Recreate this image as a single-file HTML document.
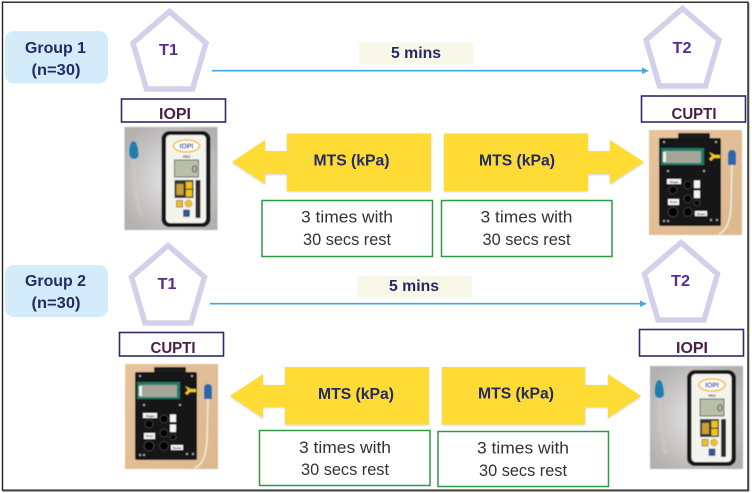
<!DOCTYPE html>
<html><head><meta charset="utf-8"><style>
html,body{margin:0;padding:0;background:#fff}
svg{display:block}
text{font-family:"Liberation Sans",sans-serif}
.g{font-weight:bold;font-size:16px;fill:#242a62;text-anchor:middle}
.t{font-weight:bold;font-size:15.5px;fill:#5a2a8c;text-anchor:middle}
.d{font-weight:bold;font-size:15.5px;fill:#4a2048;text-anchor:middle}
.r{font-size:16.5px;fill:#333;text-anchor:middle}
.pent{fill:#fff;stroke:#d3d1ea;stroke-width:5.5;stroke-linejoin:miter}
.lab{fill:none;stroke:#2f2a68;stroke-width:1.6}
.gb{fill:#fff;stroke:#2f9a42;stroke-width:1.5}
.y{fill:#fedb36}
.ln{stroke:#3fa9e2;stroke-width:1.6}
.ah{fill:#3fa9e2}
</style></head><body>
<svg width="752" height="493" viewBox="0 0 752 493" xmlns="http://www.w3.org/2000/svg">
<defs>
<filter id="b" x="-5%" y="-5%" width="110%" height="110%"><feGaussianBlur stdDeviation="0.45"/></filter>
<filter id="s" x="-5%" y="-5%" width="110%" height="115%"><feDropShadow dx="0" dy="1" stdDeviation="1" flood-color="#999" flood-opacity=".45"/></filter>
<radialGradient id="gr" cx="50%" cy="50%" r="60%"><stop offset="0" stop-color="#e6e6e6"/><stop offset="1" stop-color="#b3b1b0"/></radialGradient>
<linearGradient id="wd" x1="0" y1="0" x2="1" y2="1"><stop offset="0" stop-color="#e6c49c"/><stop offset="1" stop-color="#dcb88e"/></linearGradient>
<polygon id="p" points="0,-31.500 36.500,0 23,46 -23,46 -36.500,0"/>
<g id="iopi" filter="url(#b)">
<rect width="93" height="103" fill="url(#gr)"/>
<path d="M9 30C9 55 12 75 16 88" fill="none" stroke="#f0f0f0" stroke-width="1.8"/>
<path d="M9 30C9 55 12 75 16 88" fill="none" stroke="#777" stroke-width=".6"/>
<path d="M5 29C4 21 6 14 9 14C12 14 14 21 14 29C12 33 7 33 5 29Z" fill="#1f7fae"/>
<rect x="37" y="4" width="49" height="96" rx="8" fill="#151515"/>
<rect x="41.500" y="8" width="40" height="88" rx="4" fill="#f4f4ee"/>
<ellipse cx="62" cy="19" rx="13" ry="6" fill="#fff" stroke="#f0c030" stroke-width="1.6"/>
<text x="62" y="21.500" text-anchor="middle" font-size="7" font-weight="bold" fill="#1d3f91">IOPI</text>
<text x="62" y="31" text-anchor="middle" font-size="3.500" font-weight="bold" fill="#333">PRO</text>
<rect x="50" y="33" width="24" height="17" fill="#b9c0a9" stroke="#333" stroke-width=".7"/>
<text x="70" y="45.500" text-anchor="middle" font-size="10" fill="#333">0</text>
<rect x="50" y="53" width="19" height="18" fill="#35353a"/>
<rect x="52" y="57" width="7" height="11" fill="#c9a130"/>
<rect x="61" y="54.500" width="7" height="7.500" fill="#f2c21a" stroke="#222" stroke-width=".5"/>
<rect x="61" y="62.500" width="7" height="7.500" fill="#f2c21a" stroke="#222" stroke-width=".5"/>
<rect x="71" y="53" width="5" height="38" fill="#2c2c2c"/>
<rect x="52" y="73.500" width="6" height="6.500" fill="#f2c21a" stroke="#333" stroke-width=".5"/>
<circle cx="64" cy="76.500" r="3.500" fill="#f2c21a" stroke="#777" stroke-width=".5"/>
<rect x="59" y="83" width="6" height="6.500" fill="#2c57a8" stroke="#222" stroke-width=".5"/>
</g>
<g id="cupti" filter="url(#b)">
<rect width="93" height="105" fill="url(#wd)"/>
<path d="M83 35C82 60 83 80 80 90C78 98 74 102 70 104" fill="none" stroke="#f3e8d8" stroke-width="1.6"/>
<rect x="29" y="3" width="32" height="7" rx="1" fill="#1e1b1a"/>
<rect x="10" y="8" width="62" height="88" rx="2" fill="#171515"/>
<rect x="12" y="18" width="43" height="17" fill="#1e7a68"/>
<rect x="15" y="21" width="37" height="12" fill="#a3a596"/>
<rect x="14" y="22" width="3" height="10" fill="#f0f0f0"/>
<path d="M60 22L66 25L71 25L71 28L65 28L62 31L60 29L63 26Z" fill="#f0cb25"/>
<path d="M79 35L79 25C79 21 81 20 83 20C85 20 87 21 87 25L87 35Z" fill="#2c66ad"/>
<g fill="#050505" stroke="#3a3a3a" stroke-width="1"><circle cx="24" cy="60" r="4"/><circle cx="39" cy="55" r="4"/><circle cx="39" cy="69" r="4"/><circle cx="39" cy="82" r="4.500"/><circle cx="48" cy="73" r="3"/><circle cx="24" cy="82" r="5"/></g>
<g fill="#f4f4f4">
<rect x="18" y="49" width="14" height="5"/><rect x="19" y="69" width="11" height="6"/>
<rect x="45" y="50.500" width="6" height="7.500"/><rect x="45" y="60.500" width="6" height="7.500"/>
<rect x="46" y="81" width="12" height="5"/>
</g>
<g font-size="3" fill="#111" text-anchor="middle" font-weight="bold">
<text x="25" y="52.800">Target</text><text x="24.500" y="73">Push</text><text x="52" y="84.800">Reset</text>
</g>
<g fill="#bbb"><circle cx="15" cy="12" r="1"/><circle cx="67" cy="12" r="1"/><circle cx="19" cy="41" r="1"/><circle cx="55" cy="41" r="1"/><circle cx="15" cy="91" r="1"/><circle cx="19" cy="91" r="1"/><circle cx="62" cy="90" r="1"/><circle cx="68" cy="90" r="1"/></g>
</g>
</defs>

<rect width="752" height="493" fill="#fff"/>
<rect x="2.500" y="2.200" width="745.500" height="488" fill="none" stroke="#222" stroke-width="1.400"/>
<path d="M748.800 3V491H3" fill="none" stroke="#555" stroke-width="1"/>

<!-- Group 1 -->
<rect x="5" y="31" width="103" height="52.500" rx="9" fill="#d4ebfa"/>
<text class="g" x="55.500" y="52.800" textLength="61" lengthAdjust="spacingAndGlyphs">Group 1</text>
<text class="g" x="56" y="75" textLength="49" lengthAdjust="spacingAndGlyphs">(n=30)</text>
<use href="#p" class="pent" x="169.500" y="43"/>
<use href="#p" class="pent" x="682.500" y="40"/>
<text class="t" x="168.500" y="55" textLength="19" lengthAdjust="spacingAndGlyphs">T1</text>
<text class="t" x="682" y="53" textLength="19" lengthAdjust="spacingAndGlyphs">T2</text>
<rect x="359" y="42.500" width="114.500" height="22" rx="2" fill="#f9f8e8"/>
<text class="g" x="416" y="58" textLength="50" lengthAdjust="spacingAndGlyphs">5 mins</text>
<line class="ln" x1="212" y1="70.700" x2="643" y2="70.700"/>
<polygon class="ah" points="642,67.500 649,70.700 642,74"/>
<rect class="lab" x="121.500" y="99" width="104" height="23"/>
<text class="d" x="175" y="119" textLength="32" lengthAdjust="spacingAndGlyphs">IOPI</text>
<rect class="lab" x="641.500" y="96" width="104" height="26"/>
<text class="d" x="694" y="119" textLength="45" lengthAdjust="spacingAndGlyphs">CUPTI</text>
<use href="#iopi" x="124.500" y="127"/>
<use href="#cupti" x="649" y="130"/>
<g filter="url(#s)">
<polygon class="y" points="431,133.500 287,133.500 287,151 265,151 265,140 232,162 265,184 265,174 287,174 287,191 431,191"/>
<polygon class="y" points="444,133.500 588,133.500 588,151 610,151 610,140 644,162 610,184 610,174 588,174 588,191 444,191"/>
</g>
<text class="g" x="351.500" y="165.500" textLength="76" lengthAdjust="spacingAndGlyphs">MTS (kPa)</text>
<text class="g" x="517" y="165.500" textLength="76" lengthAdjust="spacingAndGlyphs">MTS (kPa)</text>
<rect class="gb" x="262" y="200.500" width="170.500" height="56"/>
<rect class="gb" x="441.500" y="200.500" width="170.500" height="56"/>
<text class="r" x="347" y="222.500" textLength="92" lengthAdjust="spacingAndGlyphs">3 times with</text>
<text class="r" x="347" y="245" textLength="88" lengthAdjust="spacingAndGlyphs">30 secs rest</text>
<text class="r" x="526.500" y="222.500" textLength="92" lengthAdjust="spacingAndGlyphs">3 times with</text>
<text class="r" x="526.500" y="245" textLength="88" lengthAdjust="spacingAndGlyphs">30 secs rest</text>

<!-- Group 2 -->
<rect x="5" y="265" width="103" height="52" rx="9" fill="#d4ebfa"/>
<text class="g" x="55.500" y="286" textLength="61" lengthAdjust="spacingAndGlyphs">Group 2</text>
<text class="g" x="56" y="308" textLength="49" lengthAdjust="spacingAndGlyphs">(n=30)</text>
<use href="#p" class="pent" x="168" y="277"/>
<use href="#p" class="pent" x="681" y="274"/>
<text class="t" x="167" y="289" textLength="19" lengthAdjust="spacingAndGlyphs">T1</text>
<text class="t" x="680.500" y="286" textLength="19" lengthAdjust="spacingAndGlyphs">T2</text>
<rect x="357" y="276" width="115" height="22" rx="2" fill="#f9f8e8"/>
<text class="g" x="414" y="291" textLength="50" lengthAdjust="spacingAndGlyphs">5 mins</text>
<line class="ln" x1="210" y1="303.700" x2="641" y2="303.700"/>
<polygon class="ah" points="640,300.500 647,303.700 640,307"/>
<rect class="lab" x="119.500" y="332.500" width="104" height="23.500"/>
<text class="d" x="173" y="353" textLength="45" lengthAdjust="spacingAndGlyphs">CUPTI</text>
<rect class="lab" x="639.500" y="329.500" width="104" height="26.500"/>
<text class="d" x="692" y="353" textLength="32" lengthAdjust="spacingAndGlyphs">IOPI</text>
<use href="#cupti" x="125" y="364"/>
<use href="#iopi" x="650" y="366"/>
<g filter="url(#s)">
<polygon class="y" points="429,367 285,367 285,385 263,385 263,374 230,396 263,418 263,407 285,407 285,424.500 429,424.500"/>
<polygon class="y" points="442,367 585,367 585,385 608,385 608,374 641,396 608,418 608,407 585,407 585,424.500 442,424.500"/>
</g>
<text class="g" x="356" y="399" textLength="76" lengthAdjust="spacingAndGlyphs">MTS (kPa)</text>
<text class="g" x="516" y="398.500" textLength="76" lengthAdjust="spacingAndGlyphs">MTS (kPa)</text>
<rect class="gb" x="259.500" y="430.500" width="170.500" height="55"/>
<rect class="gb" x="438" y="431.500" width="170.500" height="55"/>
<text class="r" x="345" y="453" textLength="92" lengthAdjust="spacingAndGlyphs">3 times with</text>
<text class="r" x="345" y="475" textLength="88" lengthAdjust="spacingAndGlyphs">30 secs rest</text>
<text class="r" x="523" y="453.500" textLength="92" lengthAdjust="spacingAndGlyphs">3 times with</text>
<text class="r" x="523" y="476" textLength="88" lengthAdjust="spacingAndGlyphs">30 secs rest</text>
</svg>
</body></html>
